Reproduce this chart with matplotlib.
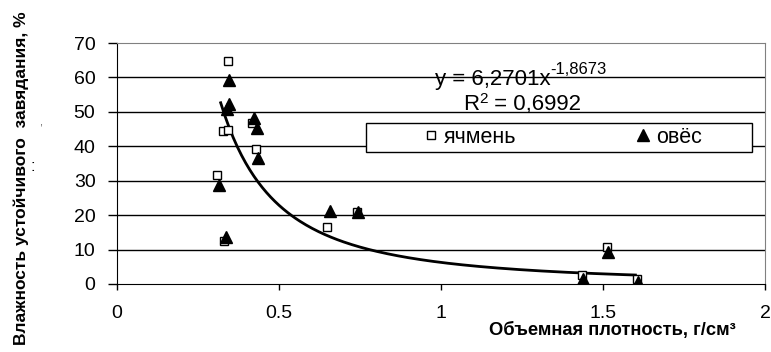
import numpy as np
import matplotlib
matplotlib.use("Agg")
import matplotlib.pyplot as plt
from matplotlib import rcParams
from matplotlib.patches import Rectangle

rcParams.update({
    "font.family": ["Liberation Sans", "DejaVu Sans"],
})

# ячмень (open squares)
barley_x = [0.342, 0.326, 0.342, 0.310, 0.331, 0.416, 0.429, 0.648, 0.741, 1.434, 1.511, 1.604]
barley_y = [64.9, 44.5, 44.7, 31.7, 12.6, 46.7, 39.1, 16.7, 21.0, 2.6, 10.8, 1.5]

# овёс (filled triangles)
oats_x = [0.347, 0.347, 0.338, 0.423, 0.433, 0.436, 0.315, 0.335, 0.656, 0.744, 1.437, 1.514, 1.607]
oats_y = [59.2, 52.3, 50.8, 48.1, 45.2, 36.5, 28.7, 13.7, 21.3, 21.0, 1.5, 9.4, 0.7]

# power trendline shown on the chart: y = a * x^b
trend_a = 6.2701
trend_b = -1.8673
trend_range = (0.32, 1.6)

x_ticks = [0, 0.5, 1, 1.5, 2]
x_ticklabels = ["0", "0.5", "1", "1.5", "2"]
y_ticks = [0, 10, 20, 30, 40, 50, 60, 70]

W, H = 771, 352
fig = plt.figure(figsize=(W / 100, H / 100), dpi=100)
ax = fig.add_axes([117 / W, 1 - 284 / H, 648 / W, 241 / H])

for yv in y_ticks[1:-1]:
    ax.axhline(yv, color="black", lw=1.0, zorder=1)

xt = np.linspace(trend_range[0], trend_range[1], 200)
ax.plot(xt, trend_a * xt ** trend_b, color="black", lw=2.0, zorder=2)

ax.plot(barley_x, barley_y, ls="none", marker="s", ms=6, mfc="white", mec="black",
        mew=1.0, label="ячмень", zorder=3)
ax.plot(oats_x, oats_y, ls="none", marker="^", ms=8, mfc="black", mec="black",
        label="овёс", zorder=4)

ax.set_xlim(0, 2)
ax.set_ylim(0, 70)
ax.set_xticks(x_ticks)
ax.set_xticklabels(x_ticklabels)
ax.set_yticks(y_ticks)
ax.tick_params(axis="both", labelsize=14, direction="out", width=1, color="black")
ax.tick_params(axis="y", length=6.5, pad=9)
ax.tick_params(axis="x", length=4.3, pad=11)

ax.spines["left"].set_color("black")
ax.spines["bottom"].set_color("black")
ax.spines["top"].set_color("#808080")
ax.spines["right"].set_color("#808080")

# equation and R^2
t1 = fig.text(435 / W, 1 - 85 / H, "y = 6,2701x", fontsize=16, ha="left", va="baseline")
ax.annotate("-1,8673", xy=(1.0, 0.6), xycoords=t1, fontsize=12, ha="left", va="bottom")
t2 = fig.text(463 / W, 1 - 110 / H, "R", fontsize=16, ha="left", va="baseline")
t3 = ax.annotate("2", xy=(1.0, 0.42), xycoords=t2, fontsize=11, ha="left", va="bottom")
ax.annotate(" = 0,6992", xy=(1.0, 0.0), xycoords=(t3, t2), fontsize=16,
            ha="left", va="bottom")

# legend with Excel-like wide frame
frame = Rectangle((366 / W, 1 - 152 / H), 386 / W, 29 / H, transform=fig.transFigure,
                  facecolor="white", edgecolor="black", lw=1.0, zorder=5)
fig.add_artist(frame)
leg = ax.legend(loc="center left", bbox_to_anchor=(420 / W, 1 - 137.5 / H),
                bbox_transform=fig.transFigure, ncol=2, fontsize=15.5, frameon=False,
                columnspacing=5.4, handletextpad=0.1, handlelength=1.0,
                borderpad=0, borderaxespad=0)
leg.set_zorder(6)
leg.remove()
fig.add_artist(leg)

fig.text(21 / W, 1 - 178 / H, "Влажность устойчивого  завядания, %", rotation=90,
         fontsize=12.5, fontweight="bold", ha="center", va="center")
fig.text(612 / W, 1 - 330 / H, "Объемная плотность, г/см³", fontsize=13.2, fontweight="bold",
         ha="center", va="center")

# stray marks present in the original image
fig.text(33 / W, 1 - 166 / H, ":", fontsize=12, ha="center", va="center")
fig.text(41 / W, 1 - 122 / H, ",", fontsize=8, ha="center", va="center", color="#555555")

fig.savefig("out.png", dpi=100)
